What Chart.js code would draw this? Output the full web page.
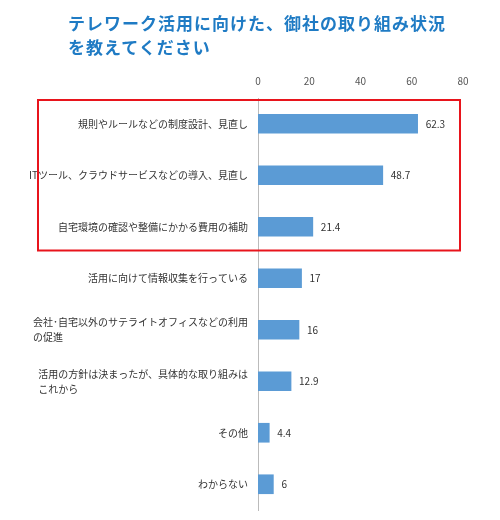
<!DOCTYPE html>
<html><head><meta charset="utf-8">
<script src="https://cdn.jsdelivr.net/npm/chart.js@4"></script>
<style>
body{margin:0;background:#fff;font-family:"Noto Sans CJK JP",sans-serif}
#wrap{position:relative;width:500px;height:520px}
#title{position:absolute;left:68px;top:11px;color:#1f7bc4;font-weight:bold;font-size:17px;line-height:24px;letter-spacing:1px}
canvas{position:absolute;left:0;top:0}
</style></head>
<body><div id="wrap"><canvas id="c" width="500" height="520"></canvas>
<div id="title">テレワーク活用に向けた、御社の取り組み状況<br>を教えてください</div></div>
<script>
const categories = [
  ['規則やルールなどの制度設計、見直し'],
  ['ITツール、クラウドサービスなどの導入、見直し'],
  ['自宅環境の確認や整備にかかる費用の補助'],
  ['活用に向けて情報収集を行っている'],
  ['会社･自宅以外のサテライトオフィスなどの利用', 'の促進'],
  ['活用の方針は決まったが、具体的な取り組みは', 'これから'],
  ['その他'],
  ['わからない']
];
const values = [62.3, 48.7, 21.4, 17, 16, 12.9, 4.4, 6];
const xTicks = [0, 20, 40, 60, 80];
const font = '"Noto Sans CJK JP", sans-serif';

const extras = {
  id: 'extras',
  afterDatasetsDraw(chart) {
    const ctx = chart.ctx, y = chart.scales.y;
    const meta = chart.getDatasetMeta(0);
    ctx.save();
    ctx.fillStyle = '#333';
    ctx.textBaseline = 'middle';
    ctx.textAlign = 'left';
    meta.data.forEach((bar, i) => {
      ctx.font = '10px ' + font;
      ctx.fillText(String(values[i]), bar.x + 8, bar.y);
      const lines = categories[i];
      const w = Math.max(...lines.map(l => ctx.measureText(l).width));
      const lh = 15, y0 = bar.y - (lines.length - 1) * lh / 2;
      lines.forEach((l, k) => ctx.fillText(l, 248 - w, y0 + k * lh));
    });
    // red highlight box around first three categories
    const step = y.getPixelForValue(1) - y.getPixelForValue(0);
    const top = y.getPixelForValue(0) - step / 2 + 2;
    const bot = y.getPixelForValue(2) + step / 2 - 2;
    ctx.strokeStyle = '#e8141c';
    ctx.lineWidth = 2;
    ctx.strokeRect(38, top, 422, bot - top);
    ctx.restore();
  }
};

new Chart(document.getElementById('c'), {
  type: 'bar',
  data: {
    labels: categories,
    datasets: [{ data: values, backgroundColor: '#5b9bd5', barThickness: 19 }]
  },
  options: {
    indexAxis: 'y',
    responsive: false,
    animation: false,
    layout: { padding: { left: 250, top: 72, right: 37, bottom: 10 } },
    plugins: { legend: { display: false }, tooltip: { enabled: false } },
    scales: {
      x: {
        position: 'top', min: 0, max: 80,
        afterBuildTicks: s => { s.ticks = xTicks.map(v => ({ value: v })); },
        ticks: { color: '#555', font: { size: 10, family: font } },
        grid: { display: false }, border: { display: false }
      },
      y: {
        ticks: { display: false },
        grid: { display: false },
        border: { color: '#bbb' }
      }
    }
  },
  plugins: [extras]
});
</script></body></html>
